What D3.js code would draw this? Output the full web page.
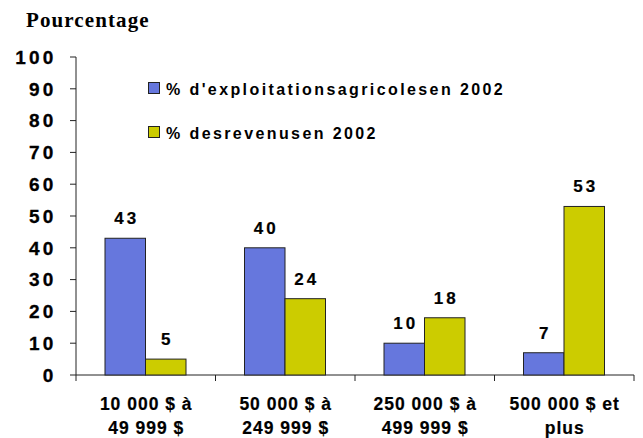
<!DOCTYPE html>
<html><head><meta charset="utf-8">
<script src="https://cdn.jsdelivr.net/npm/d3@7"></script>
<style>body{margin:0;background:#fff}svg{display:block}</style>
</head><body>
<script>
const categories = [["10 000 $ à","49 999 $"],["50 000 $ à","249 999 $"],["250 000 $ à","499 999 $"],["500 000 $ et","plus"]];
const seriesNames = ["% d'exploitationsagricolesen 2002","% desrevenusen 2002"];
const farms = [43, 40, 10, 7];
const revenue = [5, 24, 18, 53];
const yTicks = [0,10,20,30,40,50,60,70,80,90,100];
const colors = ["#6677dd","#cccc00"];

const W=643,H=438;
const svg=d3.select("body").append("svg").attr("width",W).attr("height",H);
const x0=d3.scaleBand().domain(d3.range(categories.length)).range([76,634]).paddingInner(0).paddingOuter(0);
const y=d3.scaleLinear().domain([0,100]).range([375,57]);
const barW=40.5, off=29;
const sans="'Liberation Sans',Arial,sans-serif";

// title
svg.append("text").attr("x",26).attr("y",27).text("Pourcentage")
  .attr("font-family","'Liberation Serif','Times New Roman',serif").attr("font-weight","bold")
  .attr("font-size",21).attr("letter-spacing",1.1).attr("fill","#000");

// y axis
const g=svg.append("g");
g.append("line").attr("x1",76).attr("x2",76).attr("y1",y(100)).attr("y2",y(0)).attr("stroke","#222");
yTicks.forEach(t=>{
  g.append("line").attr("x1",70).attr("x2",76).attr("y1",y(t)).attr("y2",y(t)).attr("stroke","#222");
  g.append("text").attr("x",56.5).attr("y",y(t)+6.8).attr("text-anchor","end").text(t)
   .attr("font-family",sans).attr("font-weight","bold")
   .attr("font-size",19).attr("letter-spacing",3.2).attr("fill","#000")
   .attr("stroke","#000").attr("stroke-width",0.3);
});

// bars
const series=[farms,revenue];
series.forEach((vals,si)=>{
  vals.forEach((v,i)=>{
    const bx=x0(i)+off+si*barW;
    svg.append("rect").attr("x",bx).attr("y",y(v)).attr("width",barW).attr("height",y(0)-y(v))
      .attr("fill",colors[si]).attr("stroke","#222").attr("stroke-width",1);
    svg.append("text").attr("x",bx+barW/2+1.5).attr("y",y(v)-14).attr("text-anchor","middle").text(v)
      .attr("font-family",sans).attr("font-weight","bold")
      .attr("font-size",17).attr("letter-spacing",3).attr("fill","#000")
      .attr("stroke","#000").attr("stroke-width",0.2);
  });
});

// x axis
g.append("line").attr("x1",76).attr("x2",634).attr("y1",375).attr("y2",375).attr("stroke","#222");
d3.range(categories.length+1).forEach(i=>{
  const xx=i<categories.length?x0(i):634;
  g.append("line").attr("x1",xx).attr("x2",xx).attr("y1",375).attr("y2",381).attr("stroke","#222");
});
categories.forEach((c,i)=>{
  const cx=x0(i)+x0.bandwidth()/2;
  c.forEach((line,li)=>{
    svg.append("text").attr("x",cx+0.5).attr("y",410+li*24).attr("text-anchor","middle").text(line)
      .attr("font-family",sans).attr("font-weight","bold")
      .attr("font-size",17.5).attr("letter-spacing",1).attr("fill","#000")
      .attr("stroke","#000").attr("stroke-width",0.2);
  });
});

// legend
seriesNames.forEach((n,i)=>{
  const ly=82+i*44;
  svg.append("rect").attr("x",148.5).attr("y",ly+0.5).attr("width",11).attr("height",11)
    .attr("fill",colors[i]).attr("stroke","#222");
  svg.append("text").attr("x",166).attr("y",ly+12.5).text(n)
    .attr("font-family",sans).attr("font-weight","bold")
    .attr("font-size",16).attr("letter-spacing",2.4).attr("fill","#000");
});
</script>
</body></html>
